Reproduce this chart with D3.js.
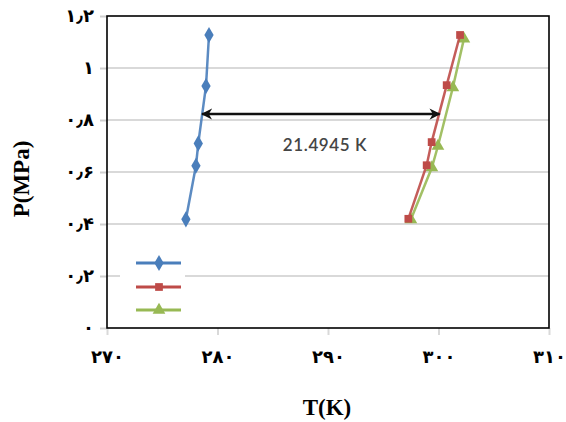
<!DOCTYPE html>
<html><head><meta charset="utf-8">
<script src="https://cdn.jsdelivr.net/npm/d3@7"></script>
<style>body{margin:0;background:#fff}svg{display:block}</style>
</head><body>
<svg id="c" width="566" height="422"></svg>
<script>
const xTicks = [270, 280, 290, 300, 310];
const xTickLabels = ["۲۷۰", "۲۸۰", "۲۹۰", "۳۰۰", "۳۱۰"];
const yTicks = [0, 0.2, 0.4, 0.6, 0.8, 1, 1.2];
const yTickLabels = ["۰", "۰٫۲", "۰٫۴", "۰٫۶", "۰٫۸", "۱", "۱٫۲"];
const blueT = [277.14, 278.05, 278.26, 278.96, 279.23];
const blueP = [0.418, 0.624, 0.710, 0.931, 1.127];
const redT = [297.27, 298.93, 299.38, 300.74, 301.95];
const redP = [0.420, 0.626, 0.715, 0.934, 1.127];
const greenT = [297.5, 299.4, 299.95, 301.3, 302.3];
const greenP = [0.417, 0.617, 0.700, 0.925, 1.112];
const arrowT = [278.6, 300.1];
const arrowP = 0.823;
const arrowLabel = "21.4945 K";
const xTitle = "T(K)";
const yTitle = "P(MPa)";

const svg = d3.select("#c");
const L = 107, R = 549, T = 16, B = 328;
const x = d3.scaleLinear().domain([270, 310]).range([L, R]);
const y = d3.scaleLinear().domain([0, 1.2]).range([B, T]);
const digitFont = "'Times New Roman', 'DejaVu Sans', serif";
const serif = "'Liberation Serif', 'Times New Roman', serif";

// gridlines
svg.append("g").selectAll("line").data(yTicks.filter(d => d > 0 && d < 1.2)).join("line")
  .attr("x1", L).attr("x2", R).attr("y1", d => y(d)).attr("y2", d => y(d))
  .attr("stroke", "#d9d9d9").attr("stroke-width", 2);

// y axis ticks (grey) and labels
const yAxis = d3.axisLeft(y).tickValues(yTicks).tickSize(7).tickPadding(6)
  .tickFormat((d, i) => yTickLabels[i]);
const gy = svg.append("g").attr("transform", `translate(${L},0)`).call(yAxis);
gy.select(".domain").remove();
gy.selectAll(".tick line").attr("stroke", "#cfcfcf").attr("stroke-width", 2);
gy.selectAll(".tick text").attr("font-family", digitFont).attr("font-weight", "bold")
  .attr("font-size", 18).attr("fill", "#000");

// x axis
const xAxis = d3.axisBottom(x).tickValues(xTicks).tickSize(7).tickPadding(15)
  .tickFormat((d, i) => xTickLabels[i]);
const gx = svg.append("g").attr("transform", `translate(0,${B})`).call(xAxis);
gx.select(".domain").remove();
gx.selectAll(".tick line").attr("stroke", "#d9d9d9").attr("stroke-width", 2);
gx.selectAll(".tick text").attr("font-family", digitFont).attr("font-weight", "bold")
  .attr("font-size", 18).attr("fill", "#000");

// frame
svg.append("rect").attr("x", L).attr("y", T).attr("width", R - L).attr("height", B - T)
  .attr("fill", "none").attr("stroke", "#000").attr("stroke-width", 1.6);

// legend box (white, hides gridline)
svg.append("rect").attr("x", 120).attr("y", 251).attr("width", 65).attr("height", 70).attr("fill", "#fff");

// series
const series = [
  {t: blueT, p: blueP, color: "#4a7ebb", shape: d3.symbolDiamond, size: 75, ly: 263},
  {t: greenT, p: greenP, color: "#98b954", shape: d3.symbolTriangle, size: 70, ly: 310},
  {t: redT, p: redP, color: "#be4b48", shape: d3.symbolSquare, size: 60, ly: 287}
];
const line = d3.line().x(d => x(d[0])).y(d => y(d[1]));
series.forEach(s => {
  const pts = s.t.map((t, i) => [t, s.p[i]]);
  svg.append("path").attr("d", line(pts)).attr("fill", "none")
    .attr("stroke", s.color).attr("stroke-width", 2.5).attr("stroke-opacity", 0.9);
  svg.append("g").selectAll("path").data(pts).join("path")
    .attr("d", d3.symbol().type(s.shape).size(s.size))
    .attr("transform", d => `translate(${x(d[0])},${y(d[1])})`)
    .attr("fill", s.color);
  // legend entry
  svg.append("line").attr("x1", 136).attr("x2", 181).attr("y1", s.ly).attr("y2", s.ly)
    .attr("stroke", s.color).attr("stroke-width", 3);
  svg.append("path").attr("d", d3.symbol().type(s.shape).size(s.size))
    .attr("transform", `translate(159,${s.ly})`).attr("fill", s.color);
});

// double arrow
const defs = svg.append("defs");
["s", "e"].forEach(k => {
  defs.append("marker").attr("id", "ar" + k).attr("viewBox", "0 0 10 10")
    .attr("refX", 9).attr("refY", 5).attr("markerWidth", 4.5).attr("markerHeight", 4.5)
    .attr("orient", "auto-start-reverse").attr("markerUnits", "strokeWidth")
    .append("path").attr("d", "M0,0 L10,5 L0,10 L3,5 Z").attr("fill", "#111");
});
svg.append("line").attr("x1", x(arrowT[0])).attr("x2", x(arrowT[1]))
  .attr("y1", y(arrowP)).attr("y2", y(arrowP))
  .attr("stroke", "#111").attr("stroke-width", 2.5)
  .attr("marker-start", "url(#ars)").attr("marker-end", "url(#are)");

svg.append("text").attr("x", 325).attr("y", 151).attr("text-anchor", "middle")
  .attr("font-family", "Lato, 'Open Sans', sans-serif").attr("font-size", 17)
  .attr("font-weight", 600).attr("letter-spacing", 0.6)
  .attr("fill", "#454545").text(arrowLabel);

// axis titles
svg.append("text").attr("x", 327).attr("y", 415).attr("text-anchor", "middle")
  .attr("font-family", serif).attr("font-weight", "bold").attr("font-size", 23).text(xTitle);
svg.append("text").attr("transform", "translate(29,179) rotate(-90)").attr("text-anchor", "middle")
  .attr("font-family", serif).attr("font-weight", "bold").attr("font-size", 23).text(yTitle);
</script>
</body></html>
